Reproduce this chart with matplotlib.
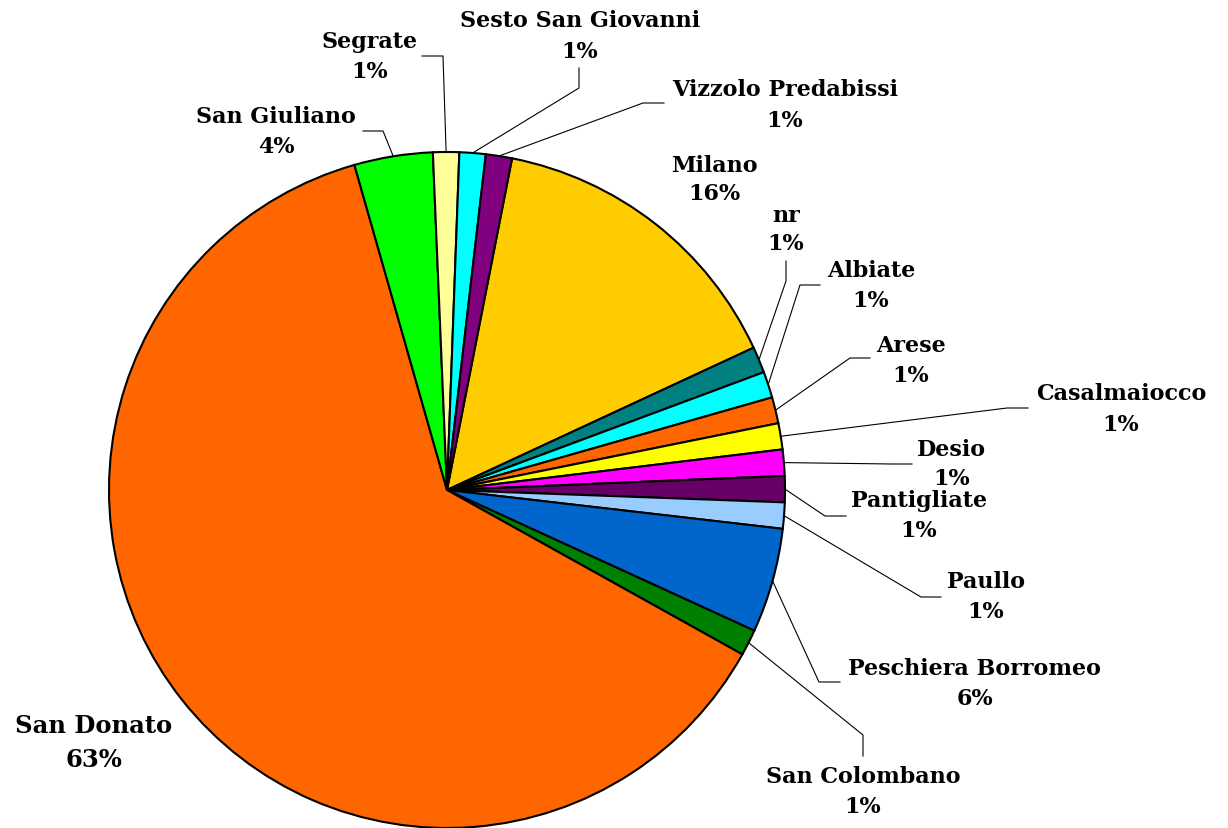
import numpy as np
import matplotlib
matplotlib.use('Agg')
import matplotlib.pyplot as plt

# slices, clockwise starting from Milano
comuni = ['Milano', 'nr', 'Albiate', 'Arese', 'Casalmaiocco', 'Desio',
          'Pantigliate', 'Paullo', 'Peschiera Borromeo', 'San Colombano',
          'San Donato', 'San Giuliano', 'Segrate', 'Sesto San Giovanni',
          'Vizzolo Predabissi']
counts = [12, 1, 1, 1, 1, 1, 1, 1, 4, 1, 50, 3, 1, 1, 1]
pct_labels = ['16%', '1%', '1%', '1%', '1%', '1%', '1%', '1%', '6%', '1%',
              '63%', '4%', '1%', '1%', '1%']
colori = ['#FFCC00', '#008080', '#00FFFF', '#FF6600', '#FFFF00', '#FF00FF',
          '#660066', '#99CCFF', '#0066CC', '#008000', '#FF6600', '#00FF00',
          '#FFFF99', '#00FFFF', '#800080']

# label layout in pixels (x centre, baseline of name, baseline of pct)
label_pos = {
    'Milano': (714, 172, 200),
    'nr': (786, 222, 250),
    'Albiate': (871, 277, 307),
    'Arese': (911, 352, 382),
    'Casalmaiocco': (1121, 400, 431),
    'Desio': (952, 456, 485),
    'Pantigliate': (919, 507, 537),
    'Paullo': (986, 588, 618),
    'Peschiera Borromeo': (975, 675, 705),
    'San Colombano': (863, 783, 813),
    'San Donato': (94, 733, 767),
    'San Giuliano': (276, 123, 153),
    'Segrate': (370, 48, 78),
    'Sesto San Giovanni': (580, 27, 58),
    'Vizzolo Predabissi': (785, 96, 127),
}
# leader lines: elbow point and end point, in pixels
leaders = {
    'nr': ((786, 282), (786, 262)),
    'Albiate': ((800, 286), (820, 286)),
    'Arese': ((850, 359), (870, 359)),
    'Casalmaiocco': ((1007, 409), (1028, 409)),
    'Desio': ((892, 465), (912, 465)),
    'Pantigliate': ((825, 517), (846, 517)),
    'Paullo': ((921, 598), (941, 598)),
    'Peschiera Borromeo': ((819, 683), (840, 683)),
    'San Colombano': ((863, 736), (863, 757)),
    'San Giuliano': ((383, 132), (363, 132)),
    'Segrate': ((443, 57), (422, 57)),
    'Sesto San Giovanni': ((579, 89), (579, 69)),
    'Vizzolo Predabissi': ((643, 104), (664, 104)),
}

W, H = 1228, 829
CX, CY, R = 447, 491, 338   # pie centre and radius in pixels


def px(x, y):
    # pixel (from top-left) -> data coords of the pie axes
    return (x - CX) / R, (CY - y) / R


fig = plt.figure(figsize=(W / 100, H / 100), dpi=100)
ax = fig.add_axes([0, 0, 1, 1])
wedges, _ = ax.pie(counts, colors=colori, startangle=90 - 11.1,
                   counterclock=False,
                   wedgeprops=dict(edgecolor='black', linewidth=1.5))
ax.set_xlim(-CX / R, (W - CX) / R)
ax.set_ylim(-(H - CY) / R, CY / R)
ax.set_aspect('equal')
ax.axis('off')

font = dict(family='DejaVu Serif', weight='bold', color='black')

for w, nome, pct in zip(wedges, comuni, pct_labels):
    x, yn, yp = label_pos[nome]
    size = 17.5 if nome == 'San Donato' else 16
    ax.text(*px(x, yn), nome, ha='center', va='baseline', fontsize=size, **font)
    ax.text(*px(x, yp), pct, ha='center', va='baseline', fontsize=size, **font)

    if nome in leaders:
        mid = np.deg2rad((w.theta1 + w.theta2) / 2)
        (ex, ey), (tx, ty) = leaders[nome]
        xs = [np.cos(mid), px(ex, ey)[0], px(tx, ty)[0]]
        ys = [np.sin(mid), px(ex, ey)[1], px(tx, ty)[1]]
        ax.plot(xs, ys, color='black', lw=0.8)

fig.savefig('out.png', dpi=100, facecolor='white')
